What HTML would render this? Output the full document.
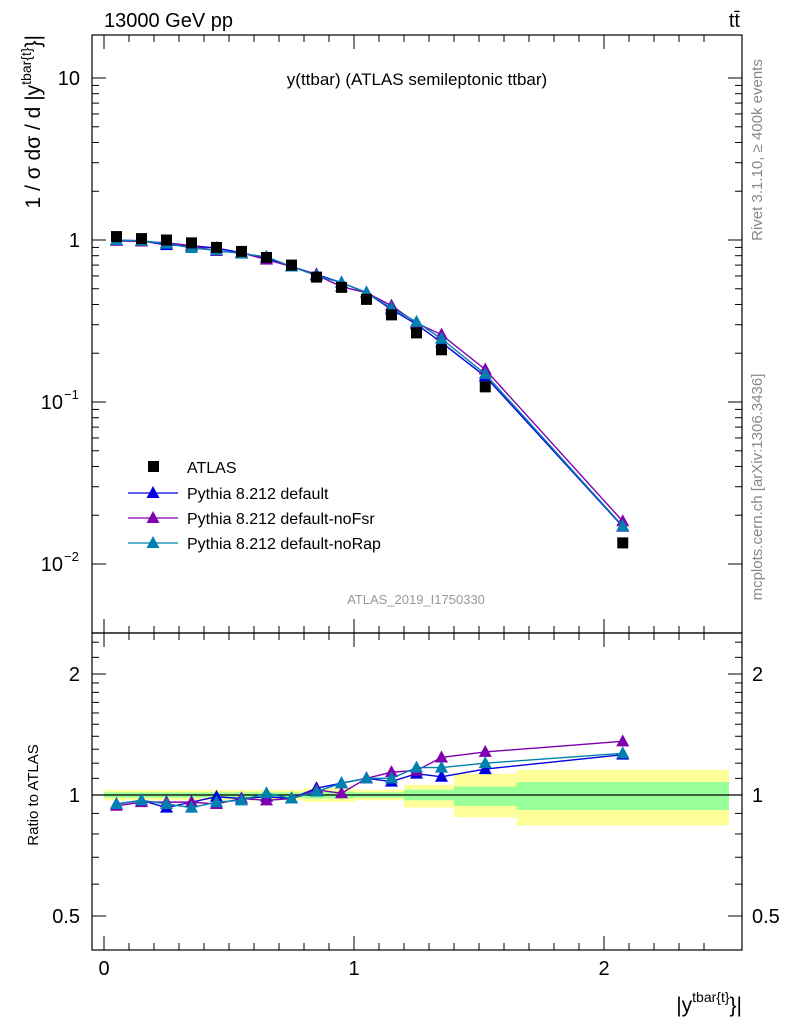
<!DOCTYPE html>
<html><head><meta charset="utf-8"><style>
body{margin:0;background:#fff;font-family:"Liberation Sans",sans-serif}
svg text{font-family:"Liberation Sans",sans-serif}
</style></head><body>
<svg id="c" width="786" height="1024" xmlns="http://www.w3.org/2000/svg"></svg>
<script>
const xCenters=[0.05,0.15,0.25,0.35,0.45,0.55,0.65,0.75,0.85,0.95,1.05,1.15,1.25,1.35,1.525,2.075];
const binEdges=[0,0.1,0.2,0.3,0.4,0.5,0.6,0.7,0.8,0.9,1.0,1.1,1.2,1.3,1.4,1.65,2.5];
const atlasVals=[1.05,1.02,1.0,0.96,0.90,0.85,0.78,0.70,0.59,0.51,0.43,0.345,0.267,0.21,0.124,0.0135];
const ratioDefault=[0.95,0.97,0.93,0.96,0.99,0.98,0.99,0.98,1.04,1.07,1.10,1.08,1.13,1.11,1.16,1.26];
const ratioNoFsr=[0.94,0.96,0.96,0.96,0.95,0.98,0.97,0.98,1.03,1.01,1.10,1.14,1.15,1.24,1.28,1.36];
const ratioNoRap=[0.95,0.97,0.95,0.93,0.96,0.97,1.01,0.98,1.02,1.07,1.10,1.10,1.17,1.17,1.20,1.27];
const bandYellowUp=[1.03,1.03,1.03,1.03,1.03,1.03,1.03,1.03,1.04,1.04,1.03,1.03,1.06,1.06,1.13,1.155];
const bandYellowDn=[0.97,0.97,0.97,0.97,0.97,0.97,0.97,0.97,0.96,0.96,0.97,0.97,0.93,0.93,0.88,0.84];
const bandGreenUp=[1.015,1.015,1.015,1.015,1.015,1.015,1.015,1.015,1.02,1.02,1.015,1.015,1.03,1.03,1.05,1.077];
const bandGreenDn=[0.985,0.985,0.985,0.985,0.985,0.985,0.985,0.985,0.98,0.98,0.985,0.985,0.97,0.97,0.94,0.918];
const xTicks=[0,1,2];
const yDecades=[0.01,0.1,1,10];
const ratioTicks=[0.5,1,2];

const svg=document.getElementById('c');const NS='http://www.w3.org/2000/svg';
function el(t,a,p){const e=document.createElementNS(NS,t);for(const k in a)e.setAttribute(k,a[k]);(p||svg).appendChild(e);return e;}
const X=v=>104+250*v;
const Y=v=>240-162*Math.log10(v);
const R=v=>795-121*Math.log2(v);
const L=92,Rt=742,T=35,M=633,B=950;

for(let i=0;i<xCenters.length;i++){
 const b=el('rect',{x:X(binEdges[i]),y:R(bandYellowUp[i]),width:X(binEdges[i+1])-X(binEdges[i]),height:R(bandYellowDn[i])-R(bandYellowUp[i]),fill:'#ffff99'});
 
 const g=el('rect',{x:X(binEdges[i]),y:R(bandGreenUp[i]),width:X(binEdges[i+1])-X(binEdges[i]),height:R(bandGreenDn[i])-R(bandGreenUp[i]),fill:'#99ff99'});
 
}
el('line',{x1:L,x2:Rt,y1:R(1),y2:R(1),stroke:'#000','stroke-width':1.2});

el('rect',{x:L,y:T,width:Rt-L,height:M-T,fill:'none',stroke:'#000','stroke-width':1.2});
el('rect',{x:L,y:M,width:Rt-L,height:B-M,fill:'none',stroke:'#000','stroke-width':1.2});

for(let v=0;v<=2.5;v+=0.1){const x=X(v);const maj=Math.abs(v-Math.round(v))<1e-6;const l=maj?14:7;
 for(const [y0,d] of [[T,1],[M,-1],[M,1],[B,-1]]) el('line',{x1:x,x2:x,y1:y0,y2:y0+d*l,stroke:'#000'});}
xTicks.forEach(v=>{const t=el('text',{x:X(v),y:975,'font-size':20,'text-anchor':'middle'});t.textContent=v;});

yDecades.forEach(d=>{for(let k=1;k<10;k++){const v=d*k;const y=Y(v);if(y<T||y>M)continue;const l=k==1?14:7;
 el('line',{x1:L,x2:L+l,y1:y,y2:y,stroke:'#000'});el('line',{x1:Rt,x2:Rt-l,y1:y,y2:y,stroke:'#000'});}});
[[10,'10'],[1,'1']].forEach(([v,s])=>{const t=el('text',{x:80,y:Y(v)+7,'font-size':20,'text-anchor':'end'});t.textContent=s;});
[[0.1,'−1'],[0.01,'−2']].forEach(([v,s])=>{const t=el('text',{x:63,y:Y(v)+7,'font-size':20,'text-anchor':'end'});t.textContent='10';
 const e=el('text',{x:64,y:Y(v)-3,'font-size':13});e.textContent=s;});

[0.5,0.6,0.7,0.8,0.9,1,1.1,1.2,1.3,1.4,1.5,1.6,1.7,1.8,1.9,2,2.2,2.4].forEach(v=>{const y=R(v);if(y<M||y>B)return;const maj=ratioTicks.includes(v);const l=maj?14:7;
 el('line',{x1:L,x2:L+l,y1:y,y2:y,stroke:'#000'});el('line',{x1:Rt,x2:Rt-l,y1:y,y2:y,stroke:'#000'});});
ratioTicks.forEach(v=>{const t=el('text',{x:80,y:R(v)+7,'font-size':20,'text-anchor':'end'});t.textContent=v;
 const t2=el('text',{x:752,y:R(v)+7,'font-size':20});t2.textContent=v;});

const series=[['pythia-default','#0000e0',ratioDefault],['pythia-nofsr','#8000b0',ratioNoFsr],['pythia-norap','#0080b0',ratioNoRap]];
function tri(x,y,c,n){const p=el('polygon',{points:`${x},${y-7} ${x-6.5},${y+5} ${x+6.5},${y+5}`,fill:c});}
series.forEach(([n,c,r])=>{
 const pm=xCenters.map((x,i)=>X(x)+','+Y(atlasVals[i]*r[i])).join(' ');
 const l1=el('polyline',{points:pm,fill:'none',stroke:c,'stroke-width':1.4});
 const pr=xCenters.map((x,i)=>X(x)+','+R(r[i])).join(' ');
 const l2=el('polyline',{points:pr,fill:'none',stroke:c,'stroke-width':1.4});
 xCenters.forEach((x,i)=>{tri(X(x),Y(atlasVals[i]*r[i]),c,n+'-point');tri(X(x),R(r[i]),c,n+'-ratio-point');});
});
xCenters.forEach((x,i)=>{const s=el('rect',{x:X(x)-5.5,y:Y(atlasVals[i])-5.5,width:11,height:11,fill:'#000'});});

const lg=el('g',{});
el('rect',{x:148,y:461,width:11,height:11,fill:'#000'},lg);
const lt=el('text',{x:187,y:473,'font-size':16},lg);lt.textContent='ATLAS';
[['Pythia 8.212 default','#0000e0'],['Pythia 8.212 default-noFsr','#8000b0'],['Pythia 8.212 default-noRap','#0080b0']].forEach(([s,c],i)=>{const y=493+25*i;
 el('line',{x1:128,x2:178,y1:y,y2:y,stroke:c,'stroke-width':1.3},lg);
 el('polygon',{points:`153,${y-7} 146.5,${y+5} 159.5,${y+5}`,fill:c},lg);
 const t=el('text',{x:187,y:y+6,'font-size':16},lg);t.textContent=s;});

function txt(s,a,n){const t=el('text',a);t.textContent=s;return t;}
txt('13000 GeV pp',{x:104,y:27,'font-size':20},'header-left');
txt('tt̄',{x:740,y:27,'font-size':20,'text-anchor':'end'},'header-right');
txt('y(ttbar) (ATLAS semileptonic ttbar)',{x:417,y:85,'font-size':17,'text-anchor':'middle'},'plot-title');
txt('ATLAS_2019_I1750330',{x:416,y:604,'font-size':13,'text-anchor':'middle',fill:'#999'},'analysis-label');
const yt=txt('',{x:40,y:35,'font-size':21,'text-anchor':'end',transform:'rotate(-90 40 35)'},'y-axis-title');
yt.innerHTML='1 / σ dσ / d |y<tspan dy="-9" font-size="14">tbar{t}</tspan><tspan dy="9">}|</tspan>';
txt('Ratio to ATLAS',{x:38,y:795,'font-size':15,'text-anchor':'middle',transform:'rotate(-90 38 795)'},'ratio-axis-title');
const xt=txt('',{x:742,y:1012,'font-size':21,'text-anchor':'end'},'x-axis-title');
xt.innerHTML='|y<tspan dy="-10" font-size="14">tbar{t}</tspan><tspan dy="10">}|</tspan>';
txt('Rivet 3.1.10, ≥ 400k events',{x:762,y:150,'font-size':15,fill:'#888','text-anchor':'middle',transform:'rotate(-90 762 150)'},'rivet-label');
txt('mcplots.cern.ch [arXiv:1306.3436]',{x:762,y:487,'font-size':15,fill:'#888','text-anchor':'middle',transform:'rotate(-90 762 487)'},'mcplots-label');
</script>
</body></html>
